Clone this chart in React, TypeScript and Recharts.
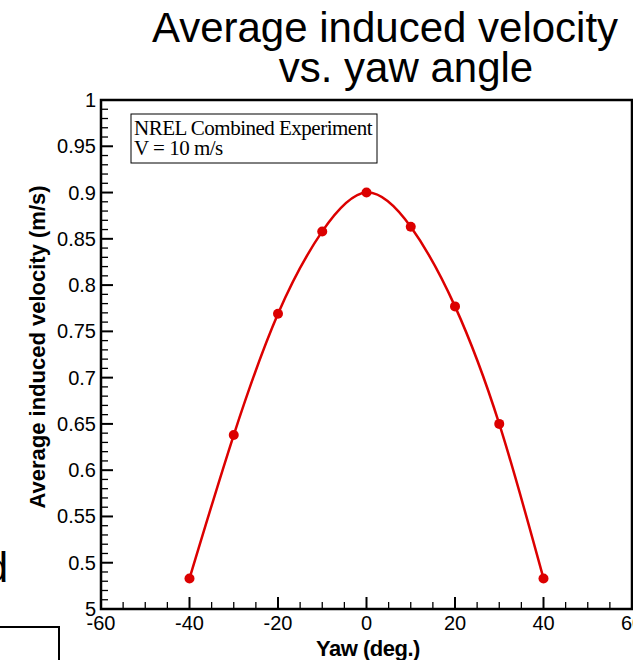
import { LineChart, Line, XAxis, YAxis, ReferenceArea } from "recharts";

// Measured yaw angle (deg.) and average induced velocity (m/s)
const yawAngles = [-40, -30, -20, -10, 0, 10, 20, 30, 40];
const inducedVelocity = [0.483, 0.638, 0.769, 0.858, 0.9, 0.863, 0.777, 0.65, 0.483];

const xMajorTicks = [-60, -40, -20, 0, 20, 40, 60];
const xMinorStep = 5;
const yMajorTicks = [0.45, 0.5, 0.55, 0.6, 0.65, 0.7, 0.75, 0.8, 0.85, 0.9, 0.95, 1];
const yTickLabels = ["5", "0.5", "0.55", "0.6", "0.65", "0.7", "0.75", "0.8", "0.85", "0.9", "0.95", "1"];
const yMinorStep = 0.01;

const data = yawAngles.map((yaw, i) => ({ yaw, velocity: inducedVelocity[i] }));

const fillTicks = (majors: number[], step: number) => {
  const out: number[] = [];
  for (let i = 0; i < majors.length - 1; i++) {
    const n = Math.round((majors[i + 1] - majors[i]) / step);
    for (let k = 0; k < n; k++) out.push(Number((majors[i] + k * step).toFixed(4)));
  }
  out.push(majors[majors.length - 1]);
  return out;
};

const xTicks = fillTicks(xMajorTicks, xMinorStep);
const yTicks = fillTicks(yMajorTicks, yMinorStep);

const SANS = "'Liberation Sans', Arial, Helvetica, sans-serif";
const SERIF = "'Liberation Serif', 'Times New Roman', serif";
const RED = "#dc0000";

const isMajor = (list: number[], v: number) => list.some((m) => Math.abs(m - v) < 1e-6);

function XTick(props: any) {
  const { x, y, payload } = props;
  const major = isMajor(xMajorTicks, payload.value);
  return (
    <g>
      <line
        x1={x}
        x2={x}
        y1={y}
        y2={y - (major ? 12 : 7)}
        stroke="#000"
        strokeWidth={major ? 2 : 1.3}
      />
      {major && (
        <text x={x} y={y + 21} textAnchor="middle" fontSize={20} fontFamily={SANS} fill="#000">
          {payload.value}
        </text>
      )}
    </g>
  );
}

function YTick(props: any) {
  const { x, y, payload } = props;
  const idx = yMajorTicks.findIndex((m) => Math.abs(m - payload.value) < 1e-6);
  const major = idx >= 0;
  return (
    <g>
      <line
        x1={x}
        x2={x + (major ? 12 : 7)}
        y1={y}
        y2={y}
        stroke="#000"
        strokeWidth={major ? 2 : 1.3}
      />
      {major && (
        <text x={x - 5} y={y + 7} textAnchor="end" fontSize={20} fontFamily={SANS} fill="#000">
          {yTickLabels[idx]}
        </text>
      )}
    </g>
  );
}

export default function App() {
  return (
    <div
      style={{
        position: "absolute",
        left: 0,
        top: 0,
        width: 633,
        height: 660,
        background: "#fff",
        overflow: "hidden",
      }}
    >
      <LineChart
        width={633}
        height={660}
        data={data}
        margin={{ top: 100, right: 1, bottom: 0, left: 0 }}
      >
        <XAxis
          dataKey="yaw"
          type="number"
          domain={[-60, 60]}
          ticks={xTicks}
          interval={0}
          allowDataOverflow
          axisLine={false}
          tickLine={false}
          tickSize={0}
          tickMargin={0}
          height={51}
          tick={XTick}
        />
        <YAxis
          type="number"
          domain={[0.45, 1]}
          ticks={yTicks}
          interval={0}
          allowDataOverflow
          axisLine={false}
          tickLine={false}
          tickSize={0}
          tickMargin={0}
          width={101}
          tick={YTick}
        />
        <ReferenceArea
          x1={-60}
          x2={60}
          y1={0.45}
          y2={1}
          fill="none"
          fillOpacity={0}
          stroke="#000"
          strokeWidth={2.5}
        />
        <Line
          type="natural"
          dataKey="velocity"
          stroke={RED}
          strokeWidth={2.5}
          dot={{ r: 5, fill: RED, stroke: RED, strokeWidth: 0 }}
          isAnimationActive={false}
        />
      </LineChart>

      <svg
        width={633}
        height={660}
        style={{ position: "absolute", left: 0, top: 0, pointerEvents: "none" }}
      >
        <text x={385} y={42} textAnchor="middle" fontSize={42} fontFamily={SANS} fill="#000">
          Average induced velocity
        </text>
        <text x={406} y={82} textAnchor="middle" fontSize={42} fontFamily={SANS} fill="#000">
          vs. yaw angle
        </text>

        <text
          x={45}
          y={347}
          transform="rotate(-90 45 347)"
          textAnchor="middle"
          fontSize={22}
          fontWeight="bold"
          fontFamily={SANS}
          fill="#000"
        >
          Average induced velocity (m/s)
        </text>
        <text
          x={368}
          y={656}
          textAnchor="middle"
          fontSize={22}
          fontWeight="bold"
          letterSpacing={-0.5}
          fontFamily={SANS}
          fill="#000"
        >
          Yaw (deg.)
        </text>

        <rect x={131} y={114} width={246} height={49} fill="#fff" stroke="#000" strokeWidth={1} />
        <text x={134} y={135} fontSize={21} letterSpacing={-0.5} fontFamily={SERIF} fill="#000">
          NREL Combined Experiment
        </text>
        <text x={134} y={155} fontSize={21} letterSpacing={-0.5} fontFamily={SERIF} fill="#000">
          V = 10 m/s
        </text>

        <text x={8} y={582} textAnchor="end" fontSize={42} fontFamily={SANS} fill="#000">
          d
        </text>
        <path d="M0 627 H59 V660" fill="none" stroke="#000" strokeWidth={2} />
      </svg>
    </div>
  );
}
